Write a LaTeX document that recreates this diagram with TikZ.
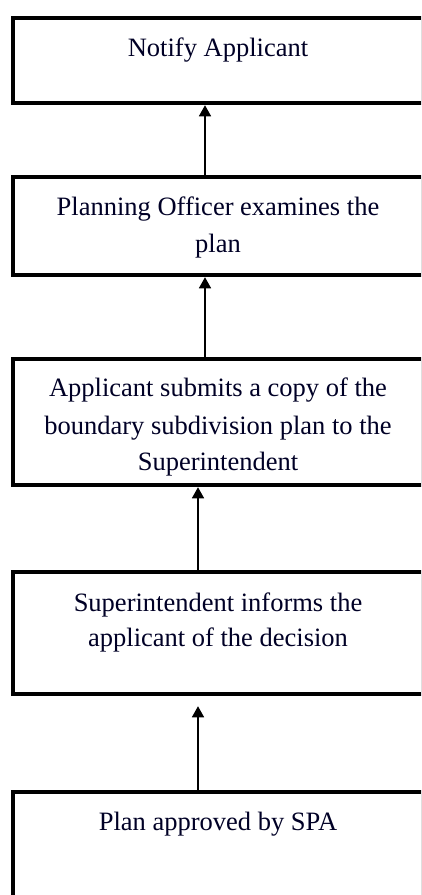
\documentclass[tikz,border=0pt]{standalone}
\usepackage{fontspec}
\setmainfont{Liberation Serif}
\usetikzlibrary{arrows.meta}
\begin{document}
\begin{tikzpicture}[x=1pt,y=-1pt,
  box/.style={draw=black,line width=4.5pt,rectangle,minimum width=410pt,inner sep=0pt,fill=white},
  lbl/.style={anchor=base,inner sep=0pt,font=\fontsize{26.5}{36}\selectfont,text=black!85!blue},
  arr/.style={line width=1.4pt,-{Triangle[length=11pt,width=12pt]}}]
\useasboundingbox (0,0) rectangle (421,895);
\clip (0,0) rectangle (421,895);
\fill[white] (0,0) rectangle (421,895);
\node[box,minimum height=85pt] (b1) at (218,60.5) {};
\node[box,minimum height=98pt] (b2) at (218,226) {};
\node[box,minimum height=126pt] (b3) at (218,422) {};
\node[box,minimum height=122pt] (b4) at (218,633) {};
\node[box,minimum height=128pt] (b5) at (218,856) {};
\node[lbl] (t1) at (218,56.7) {Notify Applicant};
\node[lbl] (t2a) at (218,215) {Planning Officer examines the};
\node[lbl] (t2b) at (218,252) {plan};
\node[lbl] (t3a) at (218,396.7) {Applicant submits a copy of the};
\node[lbl] (t3b) at (218,434) {boundary subdivision plan to the};
\node[lbl] (t3c) at (218,470) {Superintendent};
\node[lbl] (t4a) at (218,611.7) {Superintendent informs the};
\node[lbl] (t4b) at (218,646.7) {applicant of the decision};
\node[lbl] (t5) at (218,830) {Plan approved by SPA};
\draw[arr] (b2.north -| 205,0) -- (b1.south -| 205,0);
\draw[arr] (b3.north -| 205,0) -- (b2.south -| 205,0);
\draw[arr] (b4.north -| 198,0) -- (b3.south -| 198,0);
\draw[arr,shorten >=10pt] (b5.north -| 198,0) -- (b4.south -| 198,0);
\end{tikzpicture}
\end{document}
